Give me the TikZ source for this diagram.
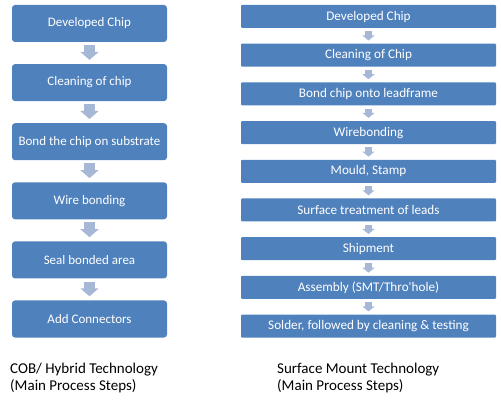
\documentclass[tikz,border=0pt]{standalone}
\usepackage{fontspec}
\setmainfont{Carlito}
\usetikzlibrary{arrows.meta}
\definecolor{boxblue}{HTML}{4F81BD}
\definecolor{arrowblue}{HTML}{A7B8D6}
\tikzset{cobbox/.style={fill=boxblue, rounded corners=3pt, minimum width=155pt, minimum height=37pt, inner sep=0pt, text=white, font=\fontsize{13}{15}\selectfont},
smtbox/.style={fill=boxblue, rounded corners=1pt, minimum width=255pt, minimum height=23pt, inner sep=0pt, text=white, font=\fontsize{13.2}{15}\selectfont},
cobarrow/.style={draw=arrowblue, line width=11pt, -{Triangle[width=18pt,length=8pt]}, shorten <=3pt, shorten >=4pt},
smtarrow/.style={draw=arrowblue, line width=7pt, -{Triangle[width=12pt,length=5pt]}, shorten <=3pt, shorten >=3pt},
caption/.style={anchor=west, align=left, inner sep=0pt, font=\fontsize{15}{17}\selectfont}}

\begin{document}
\begin{tikzpicture}[x=1pt,y=-1pt]
\useasboundingbox (0,0) rectangle (501,406);
% COB / hybrid column
\node[cobbox] (c1) at (89.5,23.5) {Developed Chip};
\node[cobbox] (c2) at (89.5,82.6) {Cleaning of chip};
\node[cobbox] (c3) at (89.5,141.7) {Bond the chip on substrate};
\node[cobbox] (c4) at (89.5,200.8) {Wire bonding};
\node[cobbox] (c5) at (89.5,259.9) {Seal bonded area};
\node[cobbox] (c6) at (89.5,319) {Add Connectors};
\draw[cobarrow] (c1) -- (c2);
\draw[cobarrow] (c2) -- (c3);
\draw[cobarrow] (c3) -- (c4);
\draw[cobarrow] (c4) -- (c5);
\draw[cobarrow] (c5) -- (c6);
% SMT column
\node[smtbox] (s1) at (368.5,16.5) {Developed Chip};
\node[smtbox] (s2) at (368.5,55.2) {Cleaning of Chip};
\node[smtbox] (s3) at (368.5,93.9) {Bond chip onto leadframe};
\node[smtbox] (s4) at (368.5,132.6) {Wirebonding};
\node[smtbox] (s5) at (368.5,171.3) {Mould, Stamp};
\node[smtbox] (s6) at (368.5,210) {Surface treatment of leads};
\node[smtbox] (s7) at (368.5,248.7) {Shipment};
\node[smtbox] (s8) at (368.5,287.4) {Assembly (SMT/Thro\textquotesingle hole)};
\node[smtbox] (s9) at (368.5,326.1) {Solder, followed by cleaning \& testing};
\draw[smtarrow] (s1) -- (s2);
\draw[smtarrow] (s2) -- (s3);
\draw[smtarrow] (s3) -- (s4);
\draw[smtarrow] (s4) -- (s5);
\draw[smtarrow] (s5) -- (s6);
\draw[smtarrow] (s6) -- (s7);
\draw[smtarrow] (s7) -- (s8);
\draw[smtarrow] (s8) -- (s9);
% captions
\node[caption] (cobcap) at (10,378.5) {COB/ Hybrid Technology\\(Main Process Steps)};
\node[caption] (smtcap) at (277,378.5) {Surface Mount Technology\\(Main Process Steps)};
\end{tikzpicture}
\end{document}
